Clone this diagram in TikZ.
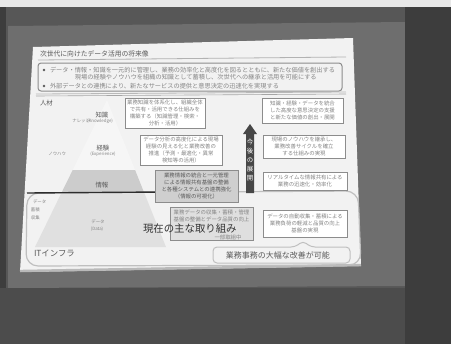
\documentclass[tikz,border=0pt]{standalone}
\usepackage{fontspec}
\newfontfamily\jp{Noto Sans CJK JP}
\definecolor{bgdark}{gray}{0.24}
\definecolor{bgtop}{gray}{0.34}
\definecolor{bgbottom}{gray}{0.30}
\definecolor{screen}{gray}{0.43}
\definecolor{slidebg}{gray}{0.95}
\definecolor{ink}{gray}{0.52}
\definecolor{inkdark}{gray}{0.35}
\definecolor{boxline}{gray}{0.55}
\definecolor{arrowc}{gray}{0.28}
\begin{document}
\begin{tikzpicture}[x=0.5pt,y=-0.5pt,
  every node/.style={inner sep=0pt,outer sep=0pt,font=\jp},
  tinytext/.style={font=\jp\fontsize{2.7}{3.5}\selectfont,text=ink,align=center},
  bullettext/.style={font=\jp\fontsize{3.1}{3.8}\selectfont,text=ink,anchor=west},
  pyrlabel/.style={font=\jp\fontsize{3.2}{3.8}\selectfont,text=inkdark},
  pyrsub/.style={font=\jp\fontsize{2.2}{2.6}\selectfont,text=ink},
  infobox/.style={draw=boxline,line width=0.5pt,fill=white},
  graybox/.style={draw=boxline,line width=0.5pt,fill=gray!38},
  lightbox/.style={draw=boxline,line width=0.5pt,fill=gray!25}]
\useasboundingbox (0,0) rectangle (451,344);
% ---- photo background ----
\fill[bgdark] (0,0) rectangle (451,344);
\fill[gray!18] (0,0) rectangle (451,7);
\fill[bgtop] (6,7) rectangle (405,290);
\fill[screen] (8,26) -- (405,22) -- (405,286) -- (8,288) -- cycle;
\fill[bgbottom] (0,288) rectangle (451,344);
\fill[bgdark] (405,7) rectangle (451,344);
% ---- slide ----
\fill[slidebg] (33,47) -- (353,38) -- (361,266) -- (20,272) -- cycle;
\draw[gray!55,line width=1.2pt] (20,271) -- (361,265);
% title
\node[anchor=west,font=\jp\fontsize{3.4}{4}\selectfont,text=inkdark] (title) at (40,54) {次世代に向けたデータ活用の将来像};
\draw[gray!60,line width=0.4pt] (38,60) -- (346,57);
% bullet box
\draw[boxline,line width=0.5pt,rounded corners=1.5] (38,63) rectangle (342,91);
\fill[inkdark] (44,70) circle (1.3);
\fill[inkdark] (44,86) circle (1.3);
\node[bullettext] (b1) at (50,70) {データ・情報・知識を一元的に管理し、業務の効率化と高度化を図るとともに、新たな価値を創出する};
\node[bullettext] (b2) at (75,77) {現場の経験やノウハウを組織の知識として蓄積し、次世代への継承と活用を可能にする};
\node[bullettext] (b3) at (50,86) {外部データとの連携により、新たなサービスの提供と意思決定の迅速化を実現する};
\draw[gray!55,line width=0.4pt] (36,94) -- (346,92);
\draw[gray!70,line width=0.3pt] (36,96) -- (346,94);
% people label
\node[anchor=west,font=\jp\fontsize{3.2}{4}\selectfont,text=inkdark] (jinzai) at (40,103) {人材};
% ---- big rounded frame (current area) ----
\draw[gray!50,line width=0.6pt,rounded corners=6] (26,266) -- (27,193) -- (358,191) -- (361,265) -- cycle;
% ---- pyramid ----
\fill[gray!7] (107,100) -- (72.7,170) -- (135.1,170) -- cycle;
\fill[gray!40] (72.7,170) -- (61.4,193) -- (144.3,193) -- (135.1,170) -- cycle;
\fill[gray!24] (61.4,193) -- (35,247) -- (166,247) -- (144.3,193) -- cycle;
\draw[gray!35!black,line width=0.7pt] (27,193) -- (162,192);
\node[pyrlabel] (chishiki) at (102,115) {知識};
\node[pyrsub] (chishikis) at (100,121) {(Knowledge)};
\node[pyrsub,anchor=east] (chishikil) at (90,121) {ナレッジ};
\node[pyrlabel] (keiken) at (103,148) {経験};
\node[pyrsub] (keikens) at (103,154) {(Experience)};
\node[pyrsub,anchor=east] (keikenl) at (66,154) {ノウハウ};
\node[pyrlabel] (joho) at (102,185) {情報};
\node[pyrsub,anchor=west] (l1) at (33,202) {データ};
\node[pyrsub,anchor=west] (l2) at (31,210) {蓄積};
\node[pyrsub,anchor=west] (l3) at (31,218) {収集};
\node[pyrsub] (data1) at (98,222) {データ};
\node[pyrsub] (data2) at (97,229) {(Data)};
\node[anchor=west,font=\jp\fontsize{4.2}{5}\selectfont,text=inkdark] (infra) at (34,253) {ITインフラ};
% ---- middle boxes ----
\node[infobox,minimum width=40pt,minimum height=15pt,anchor=north west,tinytext] (m1) at (125,98)
  {業務知識を体系化し、組織全体\\で共有・活用できる仕組みを\\構築する（知識管理・検索・\\分析・活用）};
\node[infobox,minimum width=41pt,minimum height=15pt,anchor=north west,tinytext] (m2) at (140,135)
  {データ分析の高度化による現場\\経験の見える化と業務改善の\\推進（予測・最適化・異常\\検知等の活用）};
\node[graybox,minimum width=41.5pt,minimum height=16pt,anchor=north west,tinytext,text=inkdark] (m3) at (155,170)
  {業務情報の統合と一元管理\\による情報共有基盤の整備\\と各種システムとの連携強化\\（情報の可視化）};
\node[lightbox,minimum width=41.5pt,minimum height=16.5pt,anchor=north west] (m4) at (170,207) {};
\node[tinytext,anchor=north] (m4t) at (211.5,209.5) {業務データの収集・蓄積・管理\\基盤の整備とデータ品質の向上};
\node[anchor=west,font=\jp\fontsize{5.2}{6}\selectfont,text=gray!40!black] (genzai) at (143,229) {現在の主な取り組み};
\node[tinytext] (m4s) at (228,237.5) {一部取組中};
% ---- arrow ----
\fill[arrowc] (246,193) -- (246,134) -- (243,134) -- (250,124) -- (257,134) -- (254,134) -- (254,193) -- cycle;
\node[font=\jp\fontsize{3.2}{4.5}\selectfont,text=white,align=center] (tenkai) at (250,160) {今\\後\\の\\展\\開};
% ---- right boxes ----
\node[infobox,minimum width=40.5pt,minimum height=12.5pt,anchor=north west,tinytext] (r1) at (262,98)
  {知識・経験・データを統合\\した高度な意思決定の支援\\と新たな価値の創出・展開};
\node[infobox,minimum width=41pt,minimum height=11.5pt,anchor=north west,tinytext] (r2) at (263,135)
  {現場のノウハウを継承し、\\業務改善サイクルを確立\\する仕組みの実現};
\node[infobox,minimum width=42pt,minimum height=9pt,anchor=north west,tinytext] (r3) at (263,172)
  {リアルタイムな情報共有による\\業務の迅速化・効率化};
\node[infobox,minimum width=42pt,minimum height=13.5pt,anchor=north west,tinytext] (r4) at (263,210)
  {データの自動収集・蓄積による\\業務負荷の軽減と品質の向上\\基盤の実現};
% ---- bottom callout ----
\draw[gray!50,line width=0.5pt,rounded corners=2,fill=slidebg] (213,247) -- (295,247) -- (303,241) -- (311,247) -- (350,247) -- (350,263) -- (213,263) -- cycle;
\node[font=\jp\fontsize{4}{5}\selectfont,text=inkdark] (kaizen) at (278,255) {業務事務の大幅な改善が可能};
\end{tikzpicture}
\end{document}
